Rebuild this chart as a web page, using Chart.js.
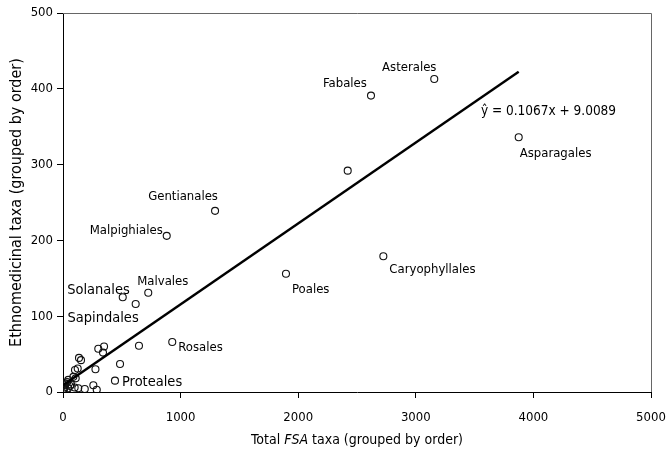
<!DOCTYPE html>
<html><head><meta charset="utf-8">
<script src="https://cdn.jsdelivr.net/npm/chart.js@4/dist/chart.umd.min.js"></script>
<style>html,body{margin:0;padding:0;background:#fff}#wrap{width:667px;height:461px;position:relative}</style>
</head><body><div id="wrap"><canvas id="c" width="667" height="461"></canvas></div>
<script>
// ---- data ----
const orderNames = ['Asterales','Fabales','Asparagales','','Gentianales','Malpighiales','Caryophyllales','Poales','Malvales','Solanales','Sapindales','Rosales','','Proteales',
  '','','','','','','','','','','','','','','','','','','','','','','','','','',''];
const fsaTaxa = [3157,2619,3875,2421,1293,882,2724,1896,725,508,618,929,646,442,
  300,349,340,136,153,485,276,102,125,88,45,108,68,185,258,287,99,130,17,3,31,43,60,8,22,12,35];
const ethnoTaxa = [413,391,336,292,239,206,179,156,131,125,116,66,61,15,
  57,60,52,45,42,37,30,29,31,20,16,18,10,4,9,3,6,5,9,3,1,5,8,4,11,6,13];
const xTicks = [0,1000,2000,3000,4000,5000];
const yTicks = [0,100,200,300,400,500];
const regSlope = 0.1067;
const regIntercept = 9.0089;
const equationText = 'ŷ = 0.1067x + 9.0089';
const xTitleParts = ['Total ', 'FSA', ' taxa (grouped by order)'];
const yTitle = 'Ethnomedicinal taxa (grouped by order)';

// ---- styling ----
const FONT = "'DejaVu Sans Condensed', 'DejaVu Sans', sans-serif";
const labelStyle = {
  Asterales:{dx:-25,dy:-11,align:'center',size:13},
  Fabales:{dx:-26,dy:-12,align:'center',size:13},
  Asparagales:{dx:1,dy:16,align:'left',size:13},
  Gentianales:{dx:-32,dy:-14,align:'center',size:13},
  Malpighiales:{dx:-4,dy:-5,align:'right',size:13},
  Caryophyllales:{dx:6,dy:13,align:'left',size:13},
  Poales:{dx:6,dy:16,align:'left',size:13},
  Malvales:{dx:-11,dy:-11,align:'left',size:13},
  Solanales:{dx:7,dy:-7,align:'right',size:14.5},
  Sapindales:{dx:3,dy:14,align:'right',size:14.5},
  Rosales:{dx:6,dy:6,align:'left',size:13},
  Proteales:{dx:7,dy:2,align:'left',size:14.5}
};

const points = fsaTaxa.map((x,i)=>({x:x, y:ethnoTaxa[i]}));
const xEnd = Math.max(...fsaTaxa);
const regLine = [{x:0,y:regIntercept},{x:xEnd,y:regSlope*xEnd+regIntercept}];

const annotPlugin = {
  id:'annot',
  afterDraw(chart){
    const ctx = chart.ctx, ca = chart.chartArea;
    const xs = chart.scales.x, ys = chart.scales.y;
    ctx.save();
    ctx.strokeStyle = '#666'; ctx.lineWidth = 1;
    ctx.beginPath();
    ctx.moveTo(ca.left, ca.top+0.5); ctx.lineTo(ca.right+0.5, ca.top+0.5); ctx.lineTo(ca.right+0.5, ca.bottom);
    ctx.stroke();
    const meta = chart.getDatasetMeta(1);
    ctx.fillStyle = '#000'; ctx.textBaseline = 'middle';
    orderNames.forEach((n,i)=>{
      const st = labelStyle[n]; if(!st) return;
      const el = meta.data[i];
      ctx.font = st.size + 'px ' + FONT;
      ctx.textAlign = st.align;
      ctx.fillText(n, el.x + st.dx, el.y + st.dy);
    });
    ctx.font = '13.5px ' + FONT; ctx.textAlign = 'left'; ctx.fillStyle = '#000';
    ctx.fillText(equationText, xs.getPixelForValue(3554), ys.getPixelForValue(370));
    const fonts = ['14px '+FONT, 'italic 14px '+FONT, '14px '+FONT];
    let total = 0; const w = [];
    xTitleParts.forEach((t,i)=>{ ctx.font = fonts[i]; w[i] = ctx.measureText(t).width; total += w[i]; });
    let x = (ca.left + ca.right)/2 - total/2;
    ctx.textAlign = 'left'; ctx.fillStyle = '#000';
    xTitleParts.forEach((t,i)=>{ ctx.font = fonts[i]; ctx.fillText(t, x, 440); x += w[i]; });
    ctx.restore();
  }
};

new Chart(document.getElementById('c'), {
  type:'scatter',
  data:{ datasets:[
    { type:'line', data:regLine, borderColor:'#000', borderWidth:2.4, pointRadius:0, fill:false, order:0 },
    { data:points, pointRadius:3.5, pointBorderWidth:1.1, borderColor:'#111', backgroundColor:'rgba(0,0,0,0)', pointHoverRadius:3.5, order:1 }
  ]},
  options:{
    responsive:false, animation:false, events:[],
    layout:{ padding:{ top:13, right:16, left:0, bottom:0 } },
    plugins:{ legend:{display:false}, tooltip:{enabled:false} },
    scales:{
      x:{ type:'linear', min:xTicks[0], max:xTicks[xTicks.length-1],
        afterBuildTicks(s){ s.ticks = xTicks.map(v=>({value:v})); },
        afterFit(s){ s.height = 69; s.paddingRight = 0; s.paddingLeft = 0; },
        ticks:{ color:'#000', font:{family:FONT, size:13}, padding:12, maxRotation:0, callback:v=>String(v) },
        grid:{ drawOnChartArea:false, drawTicks:true, tickLength:6, color:'#000' },
        border:{ color:'#000', width:1 } },
      y:{ type:'linear', min:yTicks[0], max:yTicks[yTicks.length-1],
        afterBuildTicks(s){ s.ticks = yTicks.map(v=>({value:v})); },
        afterFit(s){ s.width = 63; s.paddingTop = 0; s.paddingBottom = 0; },
        ticks:{ color:'#000', font:{family:FONT, size:13}, padding:4, callback:v=>String(v) },
        grid:{ drawOnChartArea:false, drawTicks:true, tickLength:6, color:'#000' },
        border:{ color:'#000', width:1 },
        title:{ display:true, text:yTitle, color:'#000', font:{family:FONT, size:16}, padding:{top:7,bottom:0} } }
    }
  },
  plugins:[annotPlugin]
});
</script></body></html>
